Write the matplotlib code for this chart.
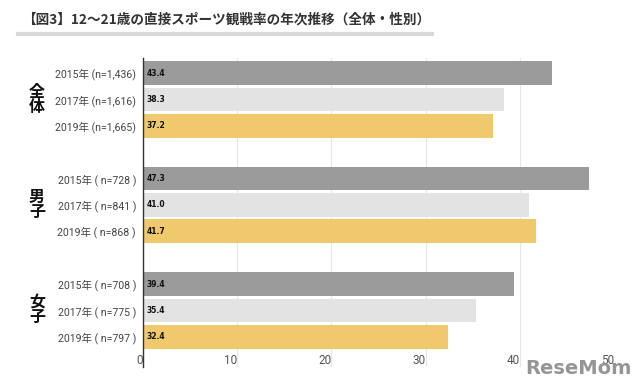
import matplotlib
matplotlib.use("Agg")
import matplotlib.pyplot as plt
from matplotlib.lines import Line2D

plt.rcParams['font.family'] = ['Noto Sans CJK JP', 'DejaVu Sans']

groups = ['全体', '男子', '女子']
years = ['2015年', '2017年', '2019年']
labels = [
    ['2015年 (n=1,436)', '2017年 (n=1,616)', '2019年 (n=1,665)'],
    ['2015年 ( n=728 )', '2017年 ( n=841 )', '2019年 ( n=868 )'],
    ['2015年 ( n=708 )', '2017年 ( n=775 )', '2019年 ( n=797 )'],
]
values = [
    [43.4, 38.3, 37.2],
    [47.3, 41.0, 41.7],
    [39.4, 35.4, 32.4],
]
colors = ['#9b9b9b', '#e3e3e3', '#efc96b']
xticks = [0, 10, 20, 30, 40, 50]

fig = plt.figure(figsize=(6.4, 3.89), dpi=100)
ax = fig.add_axes([143/640, 1-367/389, (614-143)/640, (367-58)/389])

positions = []
ylabels = []
for gi in range(len(groups)):
    for yi in range(len(years)):
        pos = gi * 4 + yi
        positions.append(pos)
        ylabels.append(labels[gi][yi])
        v = values[gi][yi]
        ax.barh(pos, v, height=0.9, color=colors[yi], zorder=2)
        ax.text(0.4, pos, f'{v:.1f}', va='center', ha='left', fontsize=5.5,
                fontweight='bold', color='#111111', zorder=3, family='DejaVu Sans')

ax.set_xlim(0, 50)
ax.set_ylim(11.14, -0.57)
ax.set_yticks(positions)
ax.set_yticklabels(ylabels, fontsize=7.6, color='#444444',
                   family=['Roboto', 'Noto Sans CJK JP'])
ax.tick_params(axis='y', length=0, pad=5)

ax.set_xticks(xticks)
ax.set_xticklabels([str(t) for t in xticks], fontsize=8.5, color='#555555', ha='right',
                   family='Roboto')
ax.tick_params(axis='x', length=0, pad=-9)
ax.grid(axis='x', color='#e6e6e6', linewidth=0.8, zorder=0)

for s in ['top', 'right', 'bottom']:
    ax.spines[s].set_visible(False)
ax.spines['left'].set_color('#333333')
ax.spines['left'].set_linewidth(1.0)
ax.spines['left'].set_zorder(4)

# group labels (vertical)
for gi, g in enumerate(groups):
    ax.text(-0.225, gi * 4 + 1, '\n'.join(g), transform=ax.get_yaxis_transform(),
            ha='center', va='center', fontsize=11.5, fontweight='bold',
            color='#111111', linespacing=0.95)

# title
fig.text(22/640, 1-20/389, '【図3】12～21歳の直接スポーツ観戦率の年次推移（全体・性別）',
         fontsize=9.8, fontweight='bold', color='#333333', va='center', ha='left')
fig.add_artist(Line2D([18/640, 432/640], [1-34/389, 1-34/389],
                      transform=fig.transFigure, color='#d9d9d9', linewidth=3))

# watermark
fig.text(578/640, 1-369/389, 'ReseMom', fontsize=14, fontweight='bold',
         color='#8a8a8a', ha='center', va='center', family='DejaVu Sans', alpha=0.9)

fig.savefig('out.png', dpi=100)
